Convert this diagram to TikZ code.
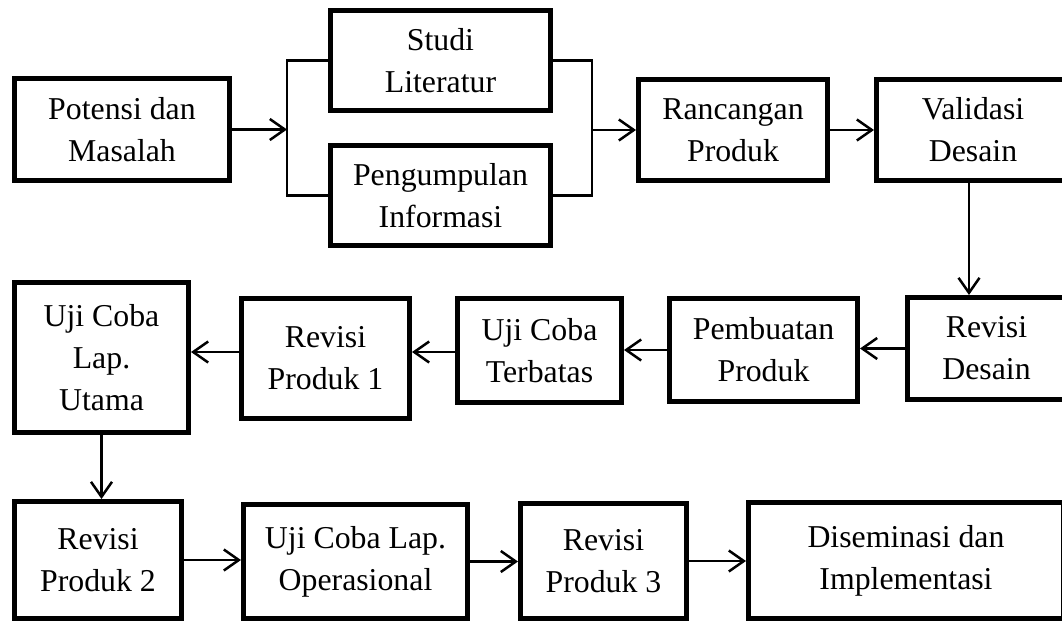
\documentclass[tikz,border=0pt]{standalone}
\usepackage{fontspec}
\setmainfont{Liberation Serif}
\usetikzlibrary{arrows.meta}
\begin{document}
\begin{tikzpicture}[x=1pt,y=-1pt,
  box/.style={draw, line width=5pt, inner sep=0pt, align=center,
    font=\fontsize{31.8}{42}\selectfont},
  conn/.style={line width=2.5pt},
  arr/.style={conn, -{Straight Barb[length=15pt,width=21pt]}},
]
\useasboundingbox (0,0) rectangle (1062,621);
\clip (0,0) rectangle (1062,621);
% row 1
\node[box, minimum width=215pt, minimum height=102pt] (pot) at (122,129.5) {Potensi dan\\Masalah};
\node[box, minimum width=220pt, minimum height=100pt] (stu) at (440.5,60.5) {Studi\\Literatur};
\node[box, minimum width=220pt, minimum height=100pt] (pen) at (440.5,195.5) {Pengumpulan\\Informasi};
\node[box, minimum width=189pt, minimum height=101pt] (ran) at (733,130) {Rancangan\\Produk};
\node[box, minimum width=193pt, minimum height=101pt] (val) at (973,130) {Validasi\\Desain};
% row 2
\node[box, minimum width=158pt, minimum height=102pt] (rd) at (986.5,348.5) {Revisi\\Desain};
\node[box, minimum width=188pt, minimum height=103pt] (pb) at (763.5,350) {Pembuatan\\Produk};
\node[box, minimum width=164pt, minimum height=104pt] (ut) at (539.5,350.5) {Uji Coba\\Terbatas};
\node[box, minimum width=168pt, minimum height=120pt] (rp1) at (325.5,358.5) {Revisi\\Produk 1};
\node[box, minimum width=174pt, minimum height=150pt] (uu) at (101.5,357.5) {Uji Coba\\Lap.\\Utama};
% row 3
\node[box, minimum width=167pt, minimum height=117pt] (rp2) at (98,560) {Revisi\\Produk 2};
\node[box, minimum width=224pt, minimum height=114pt] (op) at (355.5,561.5) {Uji Coba Lap.\\Operasional};
\node[box, minimum width=166pt, minimum height=115pt] (rp3) at (603.5,561) {Revisi\\Produk 3};
\node[box, minimum width=315pt, minimum height=116pt] (dis) at (906,560.5) {Diseminasi dan\\Implementasi};
% bracket points
\coordinate (bl) at (287,129.5);
\coordinate (br) at (592,130);
% connectors
\draw[arr] (pot.east) -- (bl);
\draw[conn] (stu.west) -| (bl) |- (pen.west);
\draw[conn] (stu.east) -| (br) |- (pen.east);
\draw[arr] (br) -- (br -| ran.west);
\draw[arr] (ran.east) -- (ran.east -| val.west);
\draw[arr] ([xshift=-4pt]val.south) -- ([xshift=-17.5pt]rd.north);
\draw[arr] (rd.west) -- (rd.west -| pb.east);
\draw[arr] (pb.west) -- (pb.west -| ut.east);
\draw[arr] ([yshift=-1.5pt]ut.west) -- ([yshift=-1.5pt]ut.west -| rp1.east);
\draw[arr] ([yshift=-1.5pt]ut.west -| rp1.west) -- ([yshift=-1.5pt]ut.west -| uu.east);
\draw[arr] (uu.south) -- (uu.south |- rp2.north);
\draw[arr] (rp2.east) -- (rp2.east -| op.west);
\draw[arr] (op.east) -- (op.east -| rp3.west);
\draw[arr] (rp3.east) -- (rp3.east -| dis.west);
\end{tikzpicture}
\end{document}
